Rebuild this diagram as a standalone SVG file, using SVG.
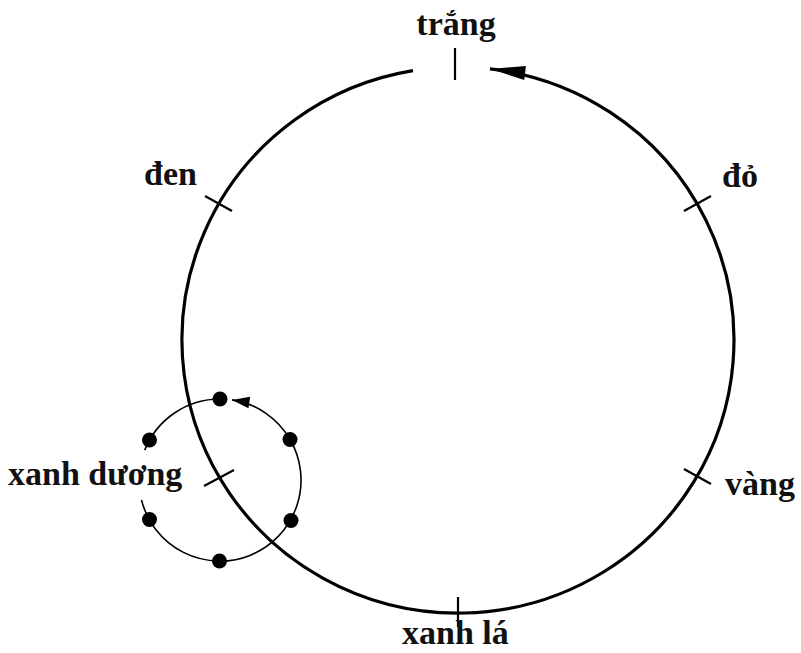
<svg xmlns="http://www.w3.org/2000/svg" width="801" height="653" viewBox="0 0 801 653">
<style>
.lbl{font-family:"Liberation Serif","Times New Roman",serif;font-weight:bold;font-size:34px;fill:#111}
.big{fill:none;stroke:#000;stroke-width:3.2}
.tick{stroke:#000;stroke-width:2.2}
.small{fill:none;stroke:#000;stroke-width:1.6}
.dot{fill:#000}
</style>
<defs>
<marker id="bigArrow" markerUnits="userSpaceOnUse" markerWidth="40" markerHeight="20" refX="0" refY="0" viewBox="-32 -8 34 16" orient="auto">
<path d="M0,0 L-30,-6 L-30,6 Z" fill="#000"/>
</marker>
<marker id="smallArrow" markerUnits="userSpaceOnUse" markerWidth="20" markerHeight="14" refX="0" refY="0" viewBox="-16 -6 17 12" orient="auto">
<path d="M0,0 L-15,-5 L-15,5 Z" fill="#000"/>
</marker>
</defs>
<g id="connectors">
<path class="big" d="M413,70.7 A276,273 0 1 0 490,68.9" marker-end="url(#bigArrow)"/>
<path class="small" d="M144.7,450.1 A81,81 0 0 1 220,399"/>
<path class="small" d="M290.1,439.5 A81,81 0 0 0 232,399.9" marker-end="url(#smallArrow)"/>
<path class="small" d="M290.1,439.5 A81,81 0 1 1 141.5,500"/>
</g>
<g id="trang">
<line class="tick" x1="455" y1="48" x2="455" y2="80"/>
<text class="lbl" x="456" y="35" text-anchor="middle">trắng</text>
</g>
<g id="den">
<line class="tick" x1="205" y1="196" x2="232" y2="211"/>
<text class="lbl" x="144" y="185">đen</text>
</g>
<g id="do">
<line class="tick" x1="711" y1="196" x2="684" y2="211"/>
<text class="lbl" x="722" y="187">đỏ</text>
</g>
<g id="vang">
<line class="tick" x1="711" y1="484" x2="684" y2="469"/>
<text class="lbl" x="725" y="495">vàng</text>
</g>
<g id="xanh-la">
<line class="tick" x1="458" y1="597" x2="458" y2="627"/>
<text class="lbl" x="402" y="644">xanh lá</text>
</g>
<g id="xanh-duong">
<line class="tick" x1="204" y1="486" x2="234" y2="470"/>
<text class="lbl" x="8" y="485">xanh dương</text>
</g>
<g id="small-cycle">
<circle class="dot" cx="220" cy="399" r="7.5"/>
<circle class="dot" cx="290" cy="439.5" r="7.5"/>
<circle class="dot" cx="291" cy="520.5" r="7.5"/>
<circle class="dot" cx="219.5" cy="561" r="7.5"/>
<circle class="dot" cx="149.5" cy="519.5" r="7.5"/>
<circle class="dot" cx="149.5" cy="440" r="7.5"/>
</g>
</svg>
